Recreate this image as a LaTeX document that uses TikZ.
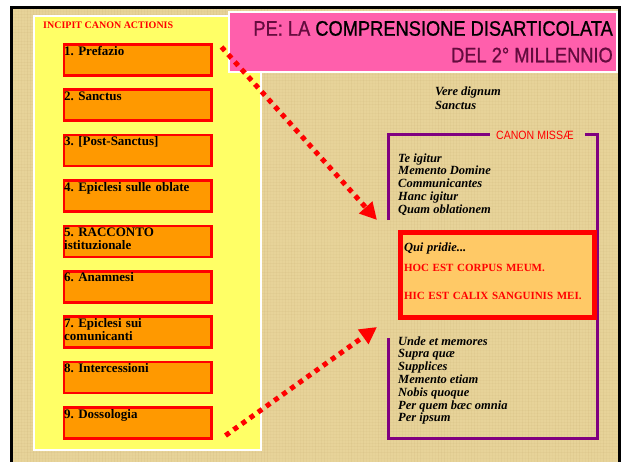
\documentclass[tikz,border=0pt]{standalone}
\usepackage{fontspec}
\setmainfont{Liberation Serif}
\newfontfamily\titlefont[FakeStretch=0.87,FakeBold=0.8]{Liberation Sans}
\newfontfamily\canonfont[FakeStretch=0.88]{Liberation Sans}
\usetikzlibrary{arrows.meta,calc}
\definecolor{parch}{RGB}{231,211,153}
\definecolor{parchdark}{RGB}{190,160,100}
\definecolor{yel}{RGB}{255,255,102}
\definecolor{orng}{RGB}{255,153,0}
\definecolor{pinkt}{RGB}{255,95,172}
\definecolor{titlemaroon}{RGB}{100,12,62}
\definecolor{purp}{RGB}{128,0,128}
\definecolor{lightor}{RGB}{255,201,102}
\frenchspacing
\begin{document}
\begin{tikzpicture}[x=1pt,y=-1pt,
  stepbox/.style={draw=red, line width=2.5pt, fill=orng, anchor=north west,
    minimum width=147.5pt, minimum height=31pt, inner sep=0pt},
  boxtxt/.style={anchor=north west, inner sep=0pt, align=left, text width=145pt,
    font=\bfseries\fontsize{13}{13}\selectfont, xshift=1.5pt, yshift=-2.6pt},
  ital/.style={anchor=north west, inner sep=0pt, align=left,
    font=\bfseries\itshape\fontsize{12.5}{12.8}\selectfont},
  arr/.style={red, line width=5pt, dash pattern=on 5pt off 5pt,
    -{Triangle[length=17pt,width=17pt]}},
  frameline/.style={purp, line width=3pt},
  titletxt/.style={anchor=base east, inner sep=0pt, font=\titlefont\fontsize{21}{21}\selectfont}
]
\useasboundingbox (0,0) rectangle (621,461);
% background
\fill[white] (0,0) rectangle (621,461);
\fill[parch] (11,7) rectangle (621,470);
\pgfmathsetseed{7}
\foreach \i in {0,...,200}{
  \pgfmathsetmacro{\op}{0.04+0.10*rnd}
  \draw[parchdark, line width=1pt, opacity=\op] ({12+3*\i},8) -- ({12+3*\i},470);
}
\foreach \i in {0,...,150}{
  \pgfmathsetmacro{\op}{0.03+0.08*rnd}
  \draw[parchdark, line width=1pt, opacity=\op] (12,{8+3*\i}) -- (621,{8+3*\i});
}
\draw[black, line width=3pt] (11.5,475) -- (11.5,7.5) -- (619.8,7.5) -- (619.8,475);
% yellow panel
\draw[white, line width=2pt, fill=yel] (34,16) rectangle (261,450);
\node[anchor=base west, inner sep=0pt, text=red, font=\bfseries\fontsize{10}{10}\selectfont] (incipit) at (43,28) {INCIPIT CANON ACTIONIS};
% title
\draw[white, line width=2pt, fill=pinkt] (229,12) rectangle (617,72);
\node[titletxt] (title1) at (613,35.7) {{\color{titlemaroon}PE: LA} COMPRENSIONE DISARTICOLATA};
\node[titletxt, text=titlemaroon] (title2) at (613,62.3) {DEL 2° MILLENNIO};
% steps
\node[stepbox, label={[boxtxt]north west:\strut 1. Prefazio}] (b1) at (62.5,43.25) {};
\node[stepbox, label={[boxtxt]north west:\strut 2. Sanctus}] (b2) at (62.5,88.25) {};
\node[stepbox, label={[boxtxt]north west:\strut 3. [Post-Sanctus]}] (b3) at (62.5,133.5) {};
\node[stepbox, label={[boxtxt]north west:\strut 4. Epiclesi sulle oblate}] (b4) at (62.5,179.25) {};
\node[stepbox, label={[boxtxt]north west:\strut 5. RACCONTO\\istituzionale}] (b5) at (62.5,224.5) {};
\node[stepbox, label={[boxtxt]north west:\strut 6. Anamnesi}] (b6) at (62.5,270) {};
\node[stepbox, label={[boxtxt]north west:\strut 7. Epiclesi sui\\comunicanti}] (b7) at (62.5,315.25) {};
\node[stepbox, label={[boxtxt]north west:\strut 8. Intercessioni}] (b8) at (62.5,360.5) {};
\node[stepbox, label={[boxtxt]north west:\strut 9. Dossologia}] (b9) at (62.5,406.25) {};
% right side texts
\node[ital, font=\bfseries\itshape\fontsize{12.5}{14}\selectfont] (vere) at (435,85.2) {\strut Vere dignum\\Sanctus};
\node[anchor=base west, inner sep=0pt, text=red, font=\canonfont\fontsize{12}{12}\selectfont] (cm) at (496,139) {CANON MISSÆ};
\draw[frameline] (388,220) |- ($(cm.west)+(-6,0)$);
\draw[frameline] ($(cm.east)+(11,0)$) -| (597,438) -| (388,338);
\node[ital] (canon1) at (398,153) {\strut Te igitur\\Memento Domine\\Communicantes\\Hanc igitur\\Quam oblationem};
\node[ital] (canon2) at (398,336) {\strut Unde et memores\\Supra quæ\\Supplices\\Memento etiam\\Nobis quoque\\Per quem bæc omnia\\Per ipsum};
% red box
\node[draw=red, line width=5pt, fill=lightor, minimum width=194pt, minimum height=85pt,
  anchor=north west, inner sep=0pt, text width=186pt, align=left,
  font=\bfseries\fontsize{11}{14}\selectfont] (rb) at (397.5,229.5)
  {{\fontsize{12.5}{14}\selectfont\itshape Qui pridie...}\\[6pt]
   \color{red}HOC EST CORPUS MEUM.\\[14pt]HIC EST CALIX SANGUINIS MEI.\par\vspace{7pt}};
% arrows
\coordinate (e1) at ($(rb.north west)+(-20.5,-9.5)$);
\coordinate (e2) at ($(rb.south west)+(-20.5,7.5)$);
\draw[arr] ($(b1.north east)+(9,3.75)$) -- (e1);
\draw[arr] ($(b9.south east)+(13,-4.25)$) -- (e2);
\end{tikzpicture}
\end{document}
